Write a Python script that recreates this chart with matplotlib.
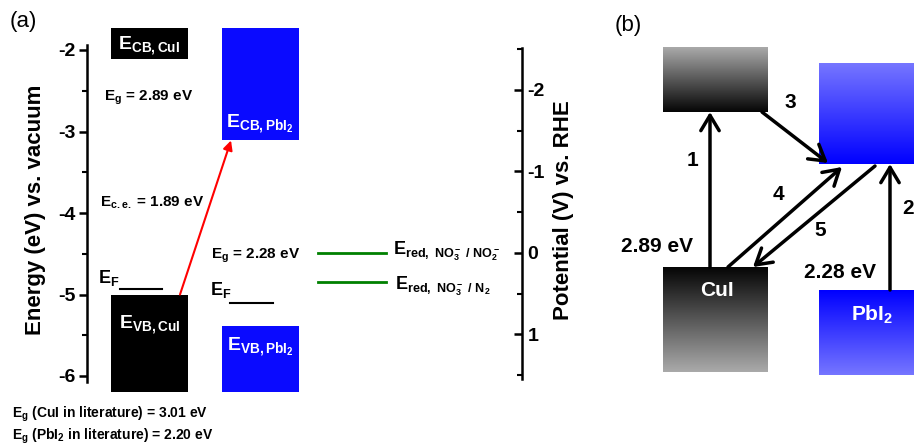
import numpy as np
import matplotlib
matplotlib.use('Agg')
import matplotlib.pyplot as plt
from matplotlib.colors import LinearSegmentedColormap

plt.rcParams['font.family'] = ['Liberation Sans', 'DejaVu Sans']
plt.rcParams['font.weight'] = 'bold'
plt.rcParams['axes.labelweight'] = 'bold'
plt.rcParams['axes.unicode_minus'] = False
plt.rcParams['mathtext.fontset'] = 'custom'
plt.rcParams['mathtext.rm'] = 'Liberation Sans:bold'
plt.rcParams['mathtext.it'] = 'Liberation Sans:bold'
plt.rcParams['mathtext.bf'] = 'Liberation Sans:bold'
plt.rcParams['mathtext.default'] = 'rm'

# band edges (eV vs. vacuum)
materials = ['CuI', 'PbI2']
cb_edge = [-2.11, -3.11]
vb_edge = [-5.00, -5.39]
fermi = [-4.93, -5.10]
box_top = -1.73
box_bottom = -6.20
# redox potentials (V vs. RHE)
redox_labels = [r'E$_{red,\ NO_3^-\ /\ NO_2^-}$', r'E$_{red,\ NO_3^-\ /\ N_2}$']
redox_pot = [0.0, 0.36]
rhe_zero = -4.49   # vacuum energy of 0 V vs RHE
lit_gap = [3.01, 2.20]
e_ticks = [-6, -5, -4, -3, -2]
v_ticks = [-2, -1, 0, 1]

W, H = 914, 446
fig = plt.figure(figsize=(W / 100, H / 100), dpi=100)

'''
# panel (a)
'''
ypix_top, ypix_bot = 20, 400
def e_of(y):
    return -2.0 - (y - 50) / 81.5

ax = fig.add_axes([87 / W, 1 - ypix_bot / H, (522 - 87) / W, (ypix_bot - ypix_top) / H])
ax.set_xlim(87, 522)
ax.set_ylim(e_of(ypix_bot), e_of(ypix_top))
for s in ['top', 'right', 'bottom']:
    ax.spines[s].set_visible(False)
ax.spines['left'].set_linewidth(1.8)
ax.spines['left'].set_bounds(-6.07, -1.94)
ax.set_xticks([])
ax.set_yticks(e_ticks)
ax.set_yticks([-5.5, -4.5, -3.5, -2.5], minor=True)
ax.tick_params(axis='y', which='major', direction='out', length=6, width=1.8, labelsize=14, pad=2)
ax.tick_params(axis='y', which='minor', direction='out', length=3.5, width=1.5)
ax.set_yticklabels([str(t) for t in e_ticks], fontsize=14, fontweight='heavy')
ax.set_ylabel('Energy (eV) vs. vacuum', fontsize=16, labelpad=9)
ax.patch.set_alpha(0)

box_x = [149.5, 260]
box_w = 77
colors = ['black', '#0a0aff']
for i in range(2):
    ax.bar(box_x[i], box_top - cb_edge[i], bottom=cb_edge[i], width=box_w, color=colors[i], clip_on=False)
    ax.bar(box_x[i], vb_edge[i] - box_bottom, bottom=box_bottom, width=box_w, color=colors[i], clip_on=False)

ax.text(149.5, -1.94, r'E$_{CB,CuI}$', color='white', fontsize=14, ha='center', va='center')
ax.text(149.5, -5.37, r'E$_{VB,CuI}$', color='white', fontsize=14, ha='center', va='center', clip_on=False)
ax.text(260, -2.90, r'E$_{CB,PbI_2}$', color='white', fontsize=14, ha='center', va='center')
ax.text(260, -5.64, r'E$_{VB,PbI_2}$', color='white', fontsize=14, ha='center', va='center')

# Fermi levels
ax.plot([120, 162], [fermi[0]] * 2, color='k', lw=1.5)
ax.plot([230, 273], [fermi[1]] * 2, color='k', lw=1.5)
ax.text(98, -4.80, r'E$_{F}$', fontsize=13, ha='left', va='center')
ax.text(210, -4.95, r'E$_{F}$', fontsize=13, ha='left', va='center')

eg_cui = cb_edge[0] - vb_edge[0]
eg_pbi = cb_edge[1] - vb_edge[1]
ece = cb_edge[1] - vb_edge[0]
ax.text(104, -2.59, r'E$_{g}$ = %.2f eV' % eg_cui, fontsize=11, ha='left', va='center')
ax.text(100, -3.87, r'E$_{c.e.}$ = %.2f eV' % ece, fontsize=11, ha='left', va='center')
ax.text(211, -4.52, r'E$_{g}$ = %.2f eV' % eg_pbi, fontsize=11, ha='left', va='center')

ax.annotate('', xy=(231, cb_edge[1]), xytext=(180, vb_edge[0]),
            arrowprops=dict(arrowstyle='-|>', color='red', lw=1.5, mutation_scale=14, shrinkA=0, shrinkB=0))

# RHE axis
axr = ax.twinx()
axr.set_ylim(rhe_zero - e_of(ypix_bot), rhe_zero - e_of(ypix_top))
for s in ['top', 'left', 'bottom']:
    axr.spines[s].set_visible(False)
axr.spines['right'].set_linewidth(1.8)
axr.spines['right'].set_bounds(-2.52, 1.55)
axr.set_yticks(v_ticks)
axr.set_yticks([-2.5, -1.5, -0.5, 0.5, 1.5], minor=True)
axr.tick_params(axis='y', which='major', direction='in', length=6, width=1.8, labelsize=14, pad=4)
axr.tick_params(axis='y', which='minor', direction='in', length=3.5, width=1.5)
axr.set_yticklabels([str(t) for t in v_ticks], fontsize=14, fontweight='heavy')
axr.set_ylabel('Potential (V) vs. RHE', fontsize=16, labelpad=6)

for v in redox_pot:
    axr.plot([318, 386], [v, v], color='#008000', lw=2)
axr.text(393, redox_pot[0] - 0.02, redox_labels[0], fontsize=13, ha='left', va='center')
axr.text(395, redox_pot[1] + 0.05, redox_labels[1], fontsize=13, ha='left', va='center')

fig.text(10 / W, 1 - 22 / H, '(a)', fontsize=16, fontweight='normal', ha='left', va='center')
fig.text(12 / W, 1 - 414 / H, r'E$_g$ (CuI in literature) = %.2f eV' % lit_gap[0], fontsize=10, ha='left', va='center')
fig.text(12 / W, 1 - 436 / H, r'E$_g$ (PbI$_2$ in literature) = %.2f eV' % lit_gap[1], fontsize=10, ha='left', va='center')

'''
# panel (b): schematic of charge transfer
'''
axb = fig.add_axes([600 / W, 0, (W - 600) / W, 1])
axb.axis('off')

grad = np.linspace(0, 1, 256).reshape(-1, 1)
gray_cm = LinearSegmentedColormap.from_list('g', ['#aaaaaa', '#050505'])
blue_cm = LinearSegmentedColormap.from_list('b', ['#7676ff', '#0000ff'])
# (x0, x1, y0, y1, cmap, flip)
boxes = [(663, 768, 47, 112, gray_cm, False),
         (819, 930, 63, 164, blue_cm, False),
         (663, 768, 267, 372, gray_cm, True),
         (819, 930, 290, 375, blue_cm, True)]
for x0, x1, y0, y1, cm, flip in boxes:
    g = grad[::-1] if flip else grad
    axb.imshow(g, cmap=cm, extent=(x0, x1, y1, y0), aspect='auto', interpolation='bilinear')
axb.set_xlim(600, W)
axb.set_ylim(H, 0)

axb.text(717, 290, 'CuI', color='white', fontsize=15, ha='center', va='center')
axb.text(872, 315, r'PbI$_2$', color='white', fontsize=15, ha='center', va='center')

arrows = [((710, 267), (710, 112)),
          ((890, 290), (890, 164)),
          ((762, 112), (828, 163)),
          ((728, 267), (842, 167)),
          ((875, 166), (753, 267))]
for start, end in arrows:
    axb.annotate('', xy=end, xytext=start,
                 arrowprops=dict(arrowstyle='->,head_length=0.5,head_width=0.3', color='k', lw=2.5,
                                 mutation_scale=22, shrinkA=0, shrinkB=0))

step_labels = ['1', '2', '3', '4', '5']
step_pos = [(693, 160), (902, 208), (790, 103), (778, 195), (820, 230)]
for lab, (x, y) in zip(step_labels, step_pos):
    axb.text(x, y, lab, fontsize=15, ha='left' if lab == '2' else 'center', va='center')
axb.text(657, 247, '2.89 eV', fontsize=15, ha='center', va='center')
axb.text(840, 272, '2.28 eV', fontsize=15, ha='center', va='center')

fig.text(615 / W, 1 - 25 / H, '(b)', fontsize=16, fontweight='normal', ha='left', va='center')

fig.savefig('out.png', dpi=100)
